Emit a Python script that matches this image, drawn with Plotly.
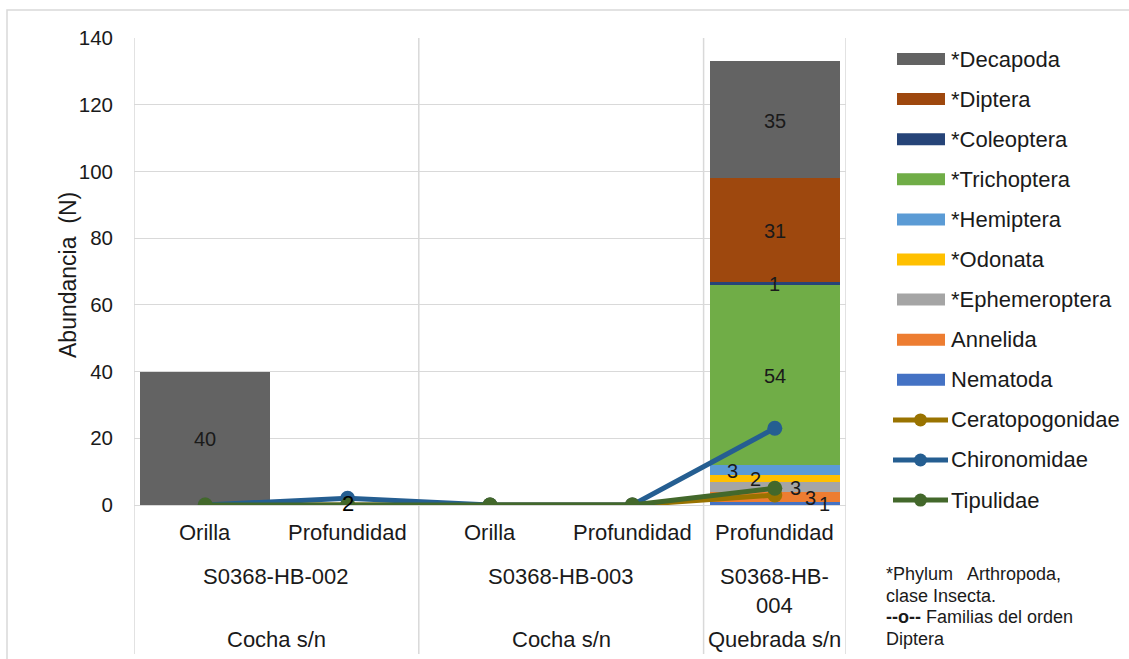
import plotly.graph_objects as go

# Sampling stations (x axis: three levels)
habitats = ["Orilla", "Profundidad", "Orilla", "Profundidad", "Profundidad"]
stations = ["S0368-HB-002", "S0368-HB-003", "S0368-HB-<br>004"]
station_span = [(0, 1), (2, 3), (4, 4)]
water_bodies = ["Cocha s/n", "Cocha s/n", "Quebrada s/n"]

# Stacked bar series (bottom to top)
bar_names = ["Nematoda", "Annelida", "*Ephemeroptera", "*Odonata", "*Hemiptera",
             "*Trichoptera", "*Coleoptera", "*Diptera", "*Decapoda"]
nematoda = [0, 0, 0, 0, 1]
annelida = [0, 0, 0, 0, 3]
ephemeroptera = [0, 0, 0, 0, 3]
odonata = [0, 0, 0, 0, 2]
hemiptera = [0, 0, 0, 0, 3]
trichoptera = [0, 0, 0, 0, 54]
coleoptera = [0, 0, 0, 0, 1]
diptera = [0, 0, 0, 0, 31]
decapoda = [40, 0, 0, 0, 35]
bar_values = [nematoda, annelida, ephemeroptera, odonata, hemiptera,
              trichoptera, coleoptera, diptera, decapoda]
bar_colors = ["#4472C4", "#ED7D31", "#A5A5A5", "#FFC000", "#5B9BD5",
              "#70AD47", "#264478", "#9E480E", "#636363"]

# Diptera families (lines)
line_names = ["Ceratopogonidae", "Chironomidae", "Tipulidae"]
ceratopogonidae = [0, 0, 0, 0, 3]
chironomidae = [0, 2, 0, 0, 23]
tipulidae = [0, 0, 0, 0, 5]
line_values = [ceratopogonidae, chironomidae, tipulidae]
line_colors = ["#997300", "#255E91", "#43682B"]

# Horizontal nudges for the crowded labels of the thin segments
label_dx = {"Nematoda": 0.351, "Annelida": 0.253, "*Ephemeroptera": 0.147,
            "*Odonata": -0.133, "*Hemiptera": -0.295}

W, H = 1129, 659
L, R, T, B = 134, 846, 38, 505
FONT = "Liberation Sans, Arial, sans-serif"
TXT = "#1a1a1a"
GRID = "#d9d9d9"


def px(x):
    return (x - L) / (R - L)


def py(y):
    return (B - y) / (B - T)


xs = list(range(len(habitats)))
fig = go.Figure()

for name, vals, col in zip(bar_names, bar_values, bar_colors):
    fig.add_trace(go.Bar(x=xs, y=vals, name=name, marker_color=col,
                         marker_line_width=0, showlegend=False))

for name, vals, col in zip(line_names, line_values, line_colors):
    fig.add_trace(go.Scatter(x=xs, y=vals, name=name, mode="lines+markers",
                             line=dict(color=col, width=5),
                             marker=dict(color=col, size=15),
                             showlegend=False))

annotations = []
shapes = []

# Segment value labels
base = [0] * len(xs)
for name, vals in zip(bar_names, bar_values):
    for i, v in enumerate(vals):
        if v:
            annotations.append(dict(
                x=i + label_dx.get(name, 0) if i == 4 else i,
                y=base[i] + v / 2, xref="x", yref="y", text=str(v),
                showarrow=False, yshift=-1,
                font=dict(family=FONT, size=20, color=TXT)))
        base[i] += v

# Chironomidae label at the deep HB-002 point
annotations.append(dict(x=1, y=chironomidae[1], xref="x", yref="y",
                        text=str(chironomidae[1]), showarrow=False, yshift=-5,
                        font=dict(family=FONT, size=22, color="#000000")))

# Multi-level category labels
for i, h in enumerate(habitats):
    annotations.append(dict(x=i, y=py(532), xref="x", yref="paper", text=h,
                            showarrow=False, yanchor="middle",
                            font=dict(family=FONT, size=22, color=TXT)))
for s, (a, b) in zip(stations, station_span):
    annotations.append(dict(x=(a + b) / 2, y=py(562), xref="x", yref="paper",
                            text=s, showarrow=False, yanchor="top",
                            font=dict(family=FONT, size=22, color=TXT)))
for w, (a, b) in zip(water_bodies, station_span):
    annotations.append(dict(x=(a + b) / 2, y=py(639), xref="x", yref="paper",
                            text=w, showarrow=False, yanchor="middle",
                            font=dict(family=FONT, size=22, color=TXT)))

# Group dividers running from the plot top through the label rows
for xb in [-0.5, 1.5, 3.5, 4.5]:
    shapes.append(dict(type="line", xref="x", yref="paper", x0=xb, x1=xb,
                       y0=py(654), y1=1, line=dict(color=GRID, width=1.5),
                       layer="below"))

# Chart frame
shapes.append(dict(type="rect", xref="paper", yref="paper",
                   x0=px(7), x1=px(1140), y0=py(10), y1=py(670),
                   line=dict(color=GRID, width=1.5), layer="below"))

# Y axis title
annotations.append(dict(x=px(53), y=py(275), xref="paper", yref="paper",
                        text="Abundancia\u00a0 (N)", textangle=-90,
                        showarrow=False,
                        font=dict(family=FONT, size=23, color=TXT)))

# Legend
legend_entries = ([(n, c, "bar") for n, c in zip(bar_names[::-1], bar_colors[::-1])]
                  + [(n, c, "line") for n, c in zip(line_names, line_colors)])
for k, (name, col, kind) in enumerate(legend_entries):
    yc = 59 + k * 40.1
    if kind == "bar":
        shapes.append(dict(type="rect", xref="paper", yref="paper",
                           x0=px(897), x1=px(945), y0=py(yc + 6), y1=py(yc - 6),
                           fillcolor=col, line=dict(width=0)))
    else:
        shapes.append(dict(type="line", xref="paper", yref="paper",
                           x0=px(893), x1=px(948), y0=py(yc), y1=py(yc),
                           line=dict(color=col, width=5)))
        shapes.append(dict(type="circle", xref="paper", yref="paper",
                           x0=px(914), x1=px(927), y0=py(yc + 6.5), y1=py(yc - 6.5),
                           fillcolor=col, line=dict(width=0)))
    annotations.append(dict(x=px(949), y=py(yc), xref="paper", yref="paper",
                            text=name, showarrow=False, xanchor="left",
                            yanchor="middle",
                            font=dict(family=FONT, size=22, color=TXT)))

# Footnote
notes = ["*Phylum\u00a0\u00a0 Arthropoda,", "clase Insecta.",
         "<b>--o--</b> Familias del orden", "Diptera"]
for k, t in enumerate(notes):
    annotations.append(dict(x=px(884), y=py(574 + k * 21.5), xref="paper",
                            yref="paper", text=t, showarrow=False,
                            xanchor="left", yanchor="middle",
                            font=dict(family=FONT, size=18, color=TXT)))

fig.update_layout(
    width=W, height=H,
    margin=dict(l=L, r=W - R, t=T, b=H - B),
    barmode="stack", bargap=0.09,
    plot_bgcolor="white", paper_bgcolor="white",
    showlegend=False,
    xaxis=dict(range=[-0.5, 4.5], showticklabels=False, showgrid=False,
               zeroline=False, showline=False, fixedrange=True),
    yaxis=dict(range=[0, 140], dtick=20, showgrid=True, gridcolor=GRID,
               gridwidth=1.3, zeroline=True, zerolinecolor=GRID,
               zerolinewidth=1.3, showline=False, ticks="",
               ticklabelstandoff=20,
               tickfont=dict(family=FONT, size=20.5, color=TXT)),
    annotations=annotations,
    shapes=shapes,
)

fig.write_html("out.html")
